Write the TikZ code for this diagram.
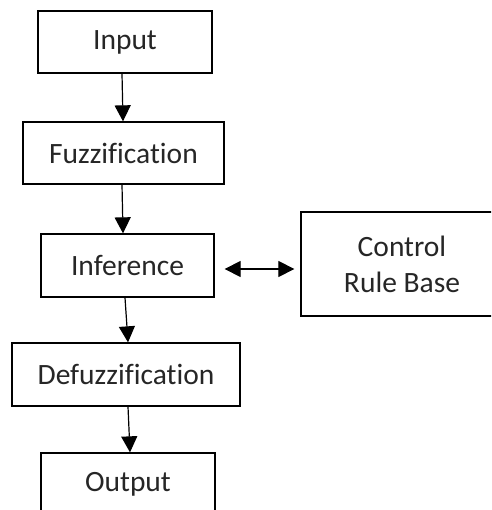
\documentclass[tikz,border=0pt]{standalone}
\usepackage{fontspec}
\setmainfont{Carlito}[Ligatures=NoCommon]
\usetikzlibrary{arrows.meta}
\begin{document}
\begin{tikzpicture}[x=1pt,y=-1pt,
  blk/.style={draw=black, line width=1.3pt, fill=white, inner sep=0pt, font=\fontsize{29.5}{36}\selectfont, text=black!85},
  arr/.style={line width=1.2pt, -{Triangle[width=16pt,length=16pt]}},
  darr/.style={line width=1.2pt, {Triangle[width=16pt,length=16pt]}-{Triangle[width=16pt,length=16pt]}}]
\clip (0,0) rectangle (491,510);
\fill[white] (0,0) rectangle (491,510);
\node[blk, minimum width=174pt, minimum height=62pt] (inp) at (125,42) {Input};
\node[blk, minimum width=201pt, minimum height=62pt] (fuz) at (123.5,153) {Fuzzification};
\node[blk, minimum width=173pt, minimum height=63pt] (inf) at (127.5,265.5) {Inference};
\node[blk, minimum width=228pt, minimum height=63pt] (def) at (126,374.5) {Defuzzification};
\node[blk, minimum width=174pt, minimum height=62pt] (out) at (128,484) {Output};
\node[blk, minimum width=202pt, minimum height=104pt, align=center] (crb) at (402,264) {Control\\Rule Base};
\draw[arr] ([xshift=-3pt]inp.south) -- ([xshift=-0.5pt]fuz.north);
\draw[arr] ([xshift=-1.5pt]fuz.south) -- ([xshift=-4.5pt]inf.north);
\draw[arr] ([xshift=-2.5pt]inf.south) -- ([xshift=2pt]def.north);
\draw[arr] ([xshift=2pt]def.south) -- ([xshift=2pt]out.north);
\draw[darr] ([xshift=10pt,yshift=-3.5pt]inf.east) -- ([xshift=-6pt,yshift=-5pt]crb.west);
\end{tikzpicture}
\end{document}
